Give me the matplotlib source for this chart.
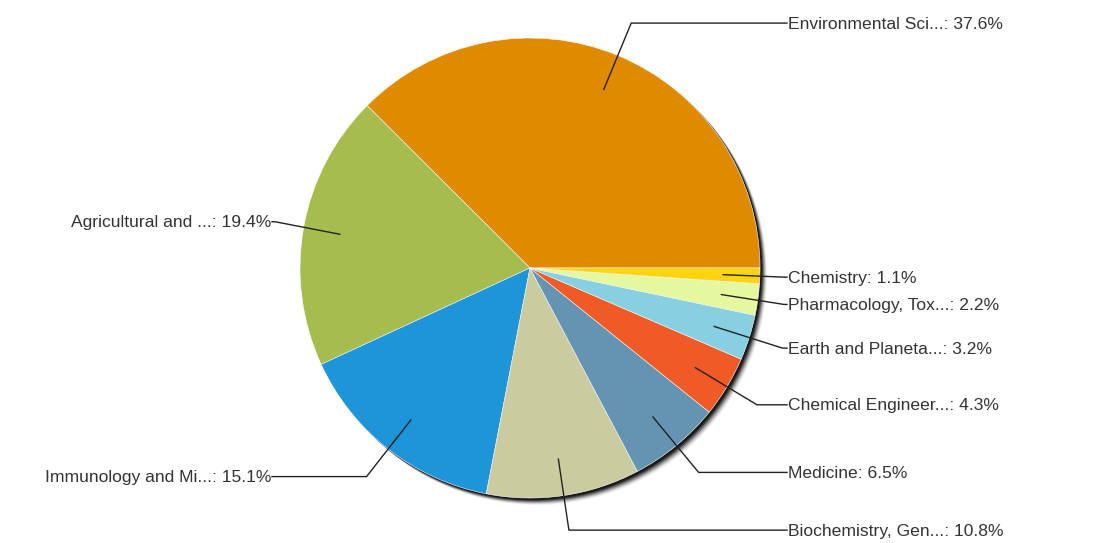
import matplotlib
matplotlib.use('Agg')
import matplotlib.pyplot as plt
import numpy as np
from matplotlib.patches import Circle

plt.rcParams['font.family'] = ['Liberation Sans', 'DejaVu Sans']

# data
labels = ['Environmental Sci...', 'Agricultural and ...', 'Immunology and Mi...',
          'Biochemistry, Gen...', 'Medicine', 'Chemical Engineer...',
          'Earth and Planeta...', 'Pharmacology, Tox...', 'Chemistry']
shares = [37.6, 19.4, 15.1, 10.8, 6.5, 4.3, 3.2, 2.2, 1.1]
colors = ['#E08A00', '#A6BC4F', '#1E94D9', '#CBCBA0', '#6594B2',
          '#EF5A26', '#86D0E2', '#E5F8A0', '#FFD40F']

W, H = 1118, 543
fig = plt.figure(figsize=(W / 100, H / 100), dpi=100)
ax = fig.add_axes([0, 0, 1, 1])

cx, cy, R = 530, 275, 230

# drop shadow (stacked offset discs to fake a blur)
for off, a in [(7, 0.06), (6, 0.12), (5, 0.2), (4, 0.3), (3, 0.45), (2, 0.6)]:
    ax.add_patch(Circle((cx + off, cy - off), R, color='black', alpha=a, lw=0, zorder=1))

wedges, _ = ax.pie(shares, colors=colors, startangle=0, counterclock=True,
                   center=(cx, cy), radius=R, frame=True,
                   wedgeprops=dict(edgecolor='white', linewidth=0.4, zorder=2))
ax.set_xlim(0, W)
ax.set_ylim(0, H)
ax.set_aspect('equal')
ax.axis('off')

for w, lab, v in zip(wedges, labels, shares):
    mid = np.deg2rad((w.theta1 + w.theta2) / 2)
    c, s = np.cos(mid), np.sin(mid)
    x0, y0 = cx + 0.84 * R * c, cy + 0.84 * R * s
    ex, ey = cx + (R + 35) * c, cy + (R + 35) * s
    txt = f'{lab}: {v}%'
    if c >= 0:
        tx = cx + R + 28
        ex = min(ex, tx - 4)
        xs = [x0, ex, tx - 1]
        ha = 'left'
    else:
        tx = cx - R - 29
        ex = max(ex, tx + 4)
        xs = [x0, ex, tx + 1]
        ha = 'right'
    ax.plot(xs, [y0, ey, ey], color='#222222', lw=1.0, zorder=3)
    ax.text(tx, ey - 1, txt, ha=ha, va='center', fontsize=12.6, color='#333333', zorder=4)

fig.savefig('out.png', dpi=100)
